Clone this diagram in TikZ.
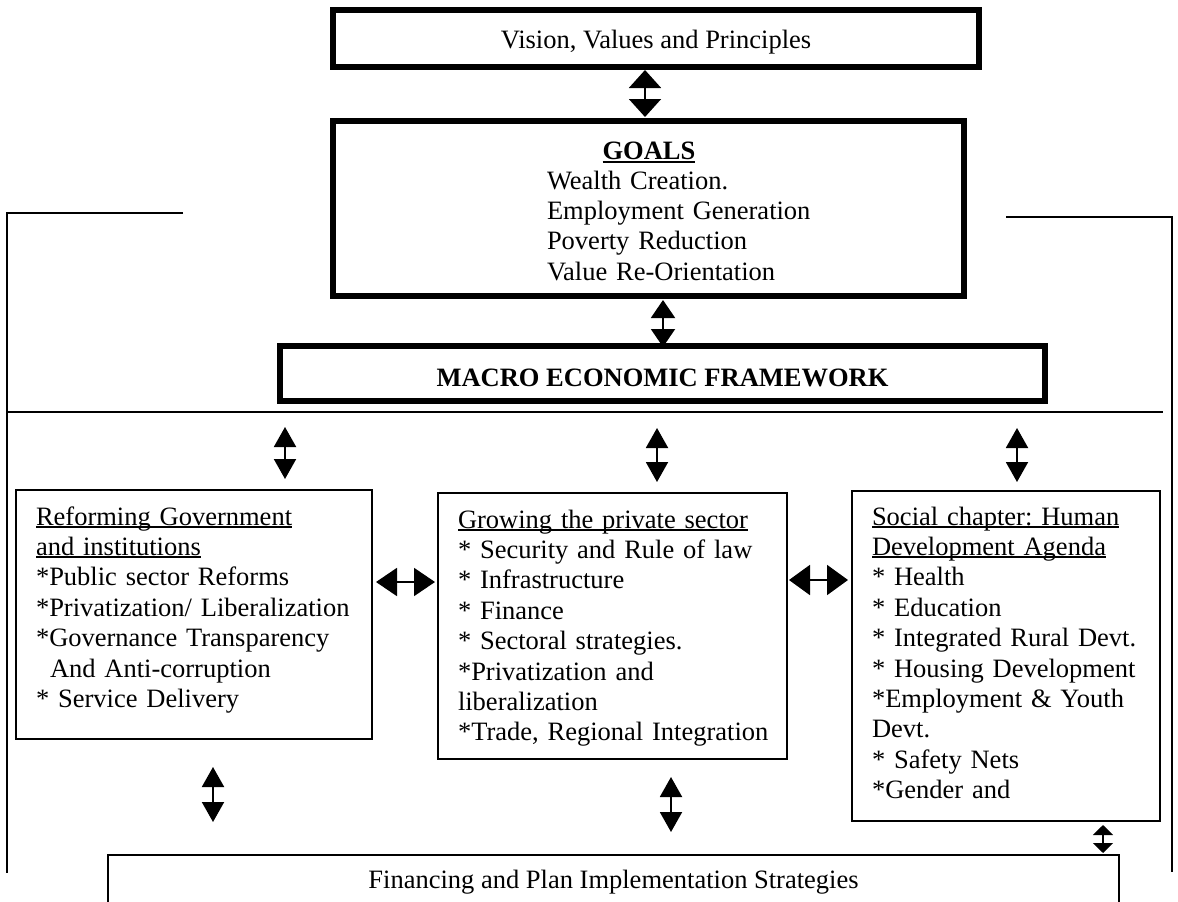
\documentclass[tikz,border=0pt]{standalone}
\usepackage{fontspec}
\setmainfont{Liberation Serif}
\usetikzlibrary{arrows.meta}
\newcommand\wul[1]{\leavevmode\setbox0=\hbox{#1}\rlap{\rule[-2.5pt]{\wd0}{1.5pt}}\box0}
\newcommand\gul[1]{\leavevmode\setbox0=\hbox{#1}\rlap{\rule[-4pt]{\wd0}{2pt}}\box0}
\tikzset{
  thickbox/.style={draw, line width=6pt, inner sep=0pt, outer sep=0pt, anchor=north west},
  thinbox/.style={draw, line width=2pt, inner sep=0pt, outer sep=0pt, anchor=north west},
  txt/.style={inner sep=0pt, outer sep=0pt, font=\fontsize{26.5pt}{30.4pt}\selectfont\frenchspacing},
  txtlist/.style={txt, anchor=base west, align=left, text width=#1},
  frameline/.style={line width=2pt},
  dbl/.style 2 args={line width=2pt, arrows={Triangle[length=#1,width=#2]-Triangle[length=#1,width=#2]}},
}
\begin{document}
\begin{tikzpicture}[x=1pt, y=-1pt]
\useasboundingbox (0,0) rectangle (1178,902);
% boxes
\node[thickbox, minimum width=646pt, minimum height=57pt] (vis) at (333,10) {};
\node[thickbox, minimum width=631pt, minimum height=175pt] (goals) at (333,121) {};
\node[thickbox, minimum width=765pt, minimum height=55pt] (mac) at (280,346) {};
\node[thinbox, minimum width=356pt, minimum height=249pt] (lb) at (16,490) {};
\node[thinbox, minimum width=349pt, minimum height=266pt] (mb) at (438,493) {};
\node[thinbox, minimum width=308pt, minimum height=330pt] (sb) at (852,491) {};
\node[thinbox, minimum width=1011pt, minimum height=80pt] (bb) at (108,855) {};
% texts
\node[txt, anchor=base] (vist) at (656,48) {Vision, Values and Principles};
\node[txt, anchor=base] (goalt) at (649,159) {\bfseries\gul{GOALS}};
\node[txtlist=300pt] (goali) at (547,189) {Wealth Creation.\\Employment Generation\\Poverty Reduction\\Value Re-Orientation};
\node[txt, anchor=base] (mact) at (662.5,386) {\bfseries MACRO ECONOMIC FRAMEWORK};
\node[txtlist=335pt] (lbt) at (36,525) {\wul{Reforming Government}\\\wul{and institutions}\\{}*Public sector Reforms\\{}*Privatization/ Liberalization\\{}*Governance Transparency\\\hspace*{14pt}And Anti-corruption\\{}* Service Delivery};
\node[txtlist=325pt] (mbt) at (458,528) {\wul{Growing the private sector}\\{}* Security and Rule of law\\{}* Infrastructure\\{}* Finance\\{}* Sectoral strategies.\\{}*Privatization and\\liberalization\\{}*Trade, Regional Integration};
\node[txtlist=285pt] (sbt) at (872,525) {\wul{Social chapter: Human}\\\wul{Development Agenda}\\{}* Health\\{}* Education\\{}* Integrated Rural Devt.\\{}* Housing Development\\{}*Employment \& Youth\\Devt.\\{}* Safety Nets\\{}*Gender and};
\node[txt, anchor=base] (bbt) at (613.5,888) {Financing and Plan Implementation Strategies};
% frame lines
\draw[frameline] (183,213) -- (7,213) -- (7,873);
\draw[frameline] (1006,217) -- (1172,217) -- (1172,872);
\draw[frameline] (6,412) -- (1163,412);
% arrows
\draw[dbl={18pt}{32pt}] ([xshift=-11pt,yshift=-3pt]vis.south) -- ([xshift=-3.5pt,yshift=4pt]goals.north);
\draw[dbl={18pt}{24pt}] ([xshift=14.5pt,yshift=-4pt]goals.south) -- ([xshift=0.5pt,yshift=-1pt]mac.north);
\draw[dbl={20pt}{22pt}] ([xshift=91pt,yshift=63pt]lb.north) -- ([xshift=91pt,yshift=11pt]lb.north);
\draw[dbl={20pt}{22pt}] ([xshift=44.5pt,yshift=65pt]mb.north) -- ([xshift=44.5pt,yshift=11pt]mb.north);
\draw[dbl={20pt}{22pt}] ([xshift=11pt,yshift=63pt]sb.north) -- ([xshift=11pt,yshift=9pt]sb.north);
\draw[dbl={21pt}{28pt}] ([xshift=4pt,yshift=32.5pt]lb.east) -- ([xshift=-3pt,yshift=44pt]mb.west);
\draw[dbl={21pt}{30pt}] ([xshift=2pt,yshift=46pt]mb.east) -- ([xshift=-4pt,yshift=76pt]sb.west);
\draw[dbl={20pt}{22pt}] ([xshift=19pt,yshift=-28pt]lb.south) -- ([xshift=-400.5pt,yshift=33pt]bb.north);
\draw[dbl={20pt}{22pt}] ([xshift=58.5pt,yshift=-18pt]mb.south) -- ([xshift=57.5pt,yshift=23pt]bb.north);
\draw[dbl={10pt}{20pt}] ([xshift=97pt,yshift=-4pt]sb.south) -- ([xshift=489.5pt,yshift=2pt]bb.north);
\end{tikzpicture}
\end{document}
